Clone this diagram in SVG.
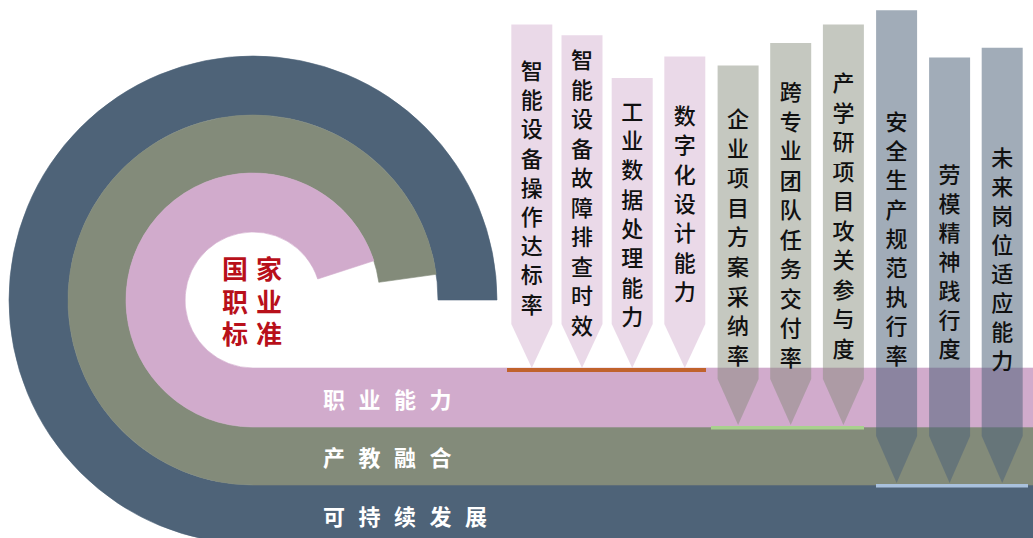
<svg xmlns="http://www.w3.org/2000/svg" width="1033" height="538" viewBox="0 0 1033 538">
<style>
.dark{fill:#4e6378;stroke:#4e6378;stroke-width:0.6}
.green{fill:#838b7a;stroke:#838b7a;stroke-width:0.6}
.pink{fill:#d1abcc;stroke:#d1abcc;stroke-width:0.6}
.c1{fill:#d1abcc;fill-opacity:0.45}
.c2{fill:#838b7a;fill-opacity:0.47}
.c3{fill:#4e6378;fill-opacity:0.53}
.vt{font-family:"Noto Sans CJK SC","Noto Sans",sans-serif;font-size:22px;font-weight:500;fill:#111;text-anchor:middle;dominant-baseline:central}
.band{font-family:"Noto Sans CJK SC","Noto Sans",sans-serif;font-size:22px;font-weight:700;fill:#ffffff;letter-spacing:13.5px;dominant-baseline:central}
.core{font-family:"Noto Sans CJK SC","Noto Sans",sans-serif;font-size:26px;font-weight:700;fill:#b8101a;letter-spacing:8px;dominant-baseline:central}
</style>
<rect width="1033" height="538" fill="#ffffff"/>
<g id="ring-dark">
<path class="dark" d="M497 300 A244 244 0 1 0 253 544 L1040 544 L1040 485 L253 485 A185 185 0 1 1 438 300 Z"/>
<text class="band" x="323" y="515">可持续发展</text>
</g>
<g id="ring-green">
<path class="green" d="M436.2 274.3 A185 185 0 1 0 253 485 L1040 485 L1040 427 L253 427 A127 127 0 1 1 378.8 282.3 Z"/>
<text class="band" x="323" y="456">产教融合</text>
</g>
<g id="ring-pink">
<path class="pink" d="M373.8 260.8 A127 127 0 1 0 253 427 L1040 427 L1040 368 L253 368 A68 68 0 1 1 317.7 279 Z"/>
<text class="band" x="323" y="398">职业能力</text>
</g>
<g id="core">
<text class="core"><tspan x="222" y="267">国家</tspan><tspan x="222" y="300">职业</tspan><tspan x="222" y="332">标准</tspan></text>
</g>
<g id="connectors">
<rect x="507" y="368" width="199" height="4" fill="#c0622c"/>
<rect x="711" y="426" width="153" height="3.5" fill="#a9d08e"/>
<rect x="876" y="484" width="152" height="3.5" fill="#a9c1dd"/>
</g>
<g id="col-1">
<path class="c1" d="M511.3 24.6 H552.3 V324 L531.8 368 L511.3 324 Z"/>
<text class="vt"><tspan x="531.8" y="69">智</tspan><tspan x="531.8" y="98.2">能</tspan><tspan x="531.8" y="127.4">设</tspan><tspan x="531.8" y="156.6">备</tspan><tspan x="531.8" y="185.8">操</tspan><tspan x="531.8" y="215">作</tspan><tspan x="531.8" y="244.2">达</tspan><tspan x="531.8" y="273.4">标</tspan><tspan x="531.8" y="302.6">率</tspan></text>
</g>
<g id="col-2">
<path class="c1" d="M561.5 35.2 H602.5 V324 L582 368 L561.5 324 Z"/>
<text class="vt"><tspan x="582" y="58.4">智</tspan><tspan x="582" y="87.9">能</tspan><tspan x="582" y="117.4">设</tspan><tspan x="582" y="146.9">备</tspan><tspan x="582" y="176.4">故</tspan><tspan x="582" y="205.9">障</tspan><tspan x="582" y="235.4">排</tspan><tspan x="582" y="264.9">查</tspan><tspan x="582" y="294.4">时</tspan><tspan x="582" y="323.9">效</tspan></text>
</g>
<g id="col-3">
<path class="c1" d="M611.7 77.9 H652.7 V324 L632.2 368 L611.7 324 Z"/>
<text class="vt"><tspan x="632.2" y="109.7">工</tspan><tspan x="632.2" y="139">业</tspan><tspan x="632.2" y="168.3">数</tspan><tspan x="632.2" y="197.6">据</tspan><tspan x="632.2" y="226.9">处</tspan><tspan x="632.2" y="256.2">理</tspan><tspan x="632.2" y="285.5">能</tspan><tspan x="632.2" y="314.8">力</tspan></text>
</g>
<g id="col-4">
<path class="c1" d="M664.3 56.4 H705.3 V324 L684.8 368 L664.3 324 Z"/>
<text class="vt"><tspan x="684.8" y="113.8">数</tspan><tspan x="684.8" y="143.2">字</tspan><tspan x="684.8" y="172.6">化</tspan><tspan x="684.8" y="202">设</tspan><tspan x="684.8" y="231.4">计</tspan><tspan x="684.8" y="260.8">能</tspan><tspan x="684.8" y="290.2">力</tspan></text>
</g>
<g id="col-5">
<path class="c2" d="M717.6 65.6 H758.6 V379 L738.1 425 L717.6 379 Z"/>
<text class="vt"><tspan x="738.1" y="116.9">企</tspan><tspan x="738.1" y="146.5">业</tspan><tspan x="738.1" y="176.1">项</tspan><tspan x="738.1" y="205.7">目</tspan><tspan x="738.1" y="235.3">方</tspan><tspan x="738.1" y="264.9">案</tspan><tspan x="738.1" y="294.5">采</tspan><tspan x="738.1" y="324.1">纳</tspan><tspan x="738.1" y="353.7">率</tspan></text>
</g>
<g id="col-6">
<path class="c2" d="M770.2 43 H811.2 V379 L790.7 425 L770.2 379 Z"/>
<text class="vt"><tspan x="790.7" y="90.2">跨</tspan><tspan x="790.7" y="119.7">专</tspan><tspan x="790.7" y="149.2">业</tspan><tspan x="790.7" y="178.7">团</tspan><tspan x="790.7" y="208.2">队</tspan><tspan x="790.7" y="237.7">任</tspan><tspan x="790.7" y="267.2">务</tspan><tspan x="790.7" y="296.7">交</tspan><tspan x="790.7" y="326.2">付</tspan><tspan x="790.7" y="355.7">率</tspan></text>
</g>
<g id="col-7">
<path class="c2" d="M822.9 24.6 H863.9 V379 L843.4 425 L822.9 379 Z"/>
<text class="vt"><tspan x="843.4" y="81">产</tspan><tspan x="843.4" y="110.5">学</tspan><tspan x="843.4" y="140">研</tspan><tspan x="843.4" y="169.5">项</tspan><tspan x="843.4" y="199">目</tspan><tspan x="843.4" y="228.5">攻</tspan><tspan x="843.4" y="258">关</tspan><tspan x="843.4" y="287.5">参</tspan><tspan x="843.4" y="317">与</tspan><tspan x="843.4" y="346.5">度</tspan></text>
</g>
<g id="col-8">
<path class="c3" d="M876.1 10.2 H917.1 V436 L896.6 483 L876.1 436 Z"/>
<text class="vt"><tspan x="896.6" y="120">安</tspan><tspan x="896.6" y="149.2">全</tspan><tspan x="896.6" y="178.4">生</tspan><tspan x="896.6" y="207.6">产</tspan><tspan x="896.6" y="236.8">规</tspan><tspan x="896.6" y="266">范</tspan><tspan x="896.6" y="295.2">执</tspan><tspan x="896.6" y="324.4">行</tspan><tspan x="896.6" y="353.6">率</tspan></text>
</g>
<g id="col-9">
<path class="c3" d="M929.1 57.4 H970.1 V436 L949.6 483 L929.1 436 Z"/>
<text class="vt"><tspan x="949.6" y="173.2">劳</tspan><tspan x="949.6" y="202.1">模</tspan><tspan x="949.6" y="231">精</tspan><tspan x="949.6" y="259.9">神</tspan><tspan x="949.6" y="288.8">践</tspan><tspan x="949.6" y="317.7">行</tspan><tspan x="949.6" y="346.6">度</tspan></text>
</g>
<g id="col-10">
<path class="c3" d="M981.7 47.8 H1022.7 V436 L1002.2 483 L981.7 436 Z"/>
<text class="vt"><tspan x="1002.2" y="155.8">未</tspan><tspan x="1002.2" y="184.8">来</tspan><tspan x="1002.2" y="213.8">岗</tspan><tspan x="1002.2" y="242.8">位</tspan><tspan x="1002.2" y="271.8">适</tspan><tspan x="1002.2" y="300.8">应</tspan><tspan x="1002.2" y="329.8">能</tspan><tspan x="1002.2" y="358.8">力</tspan></text>
</g>
</svg>
